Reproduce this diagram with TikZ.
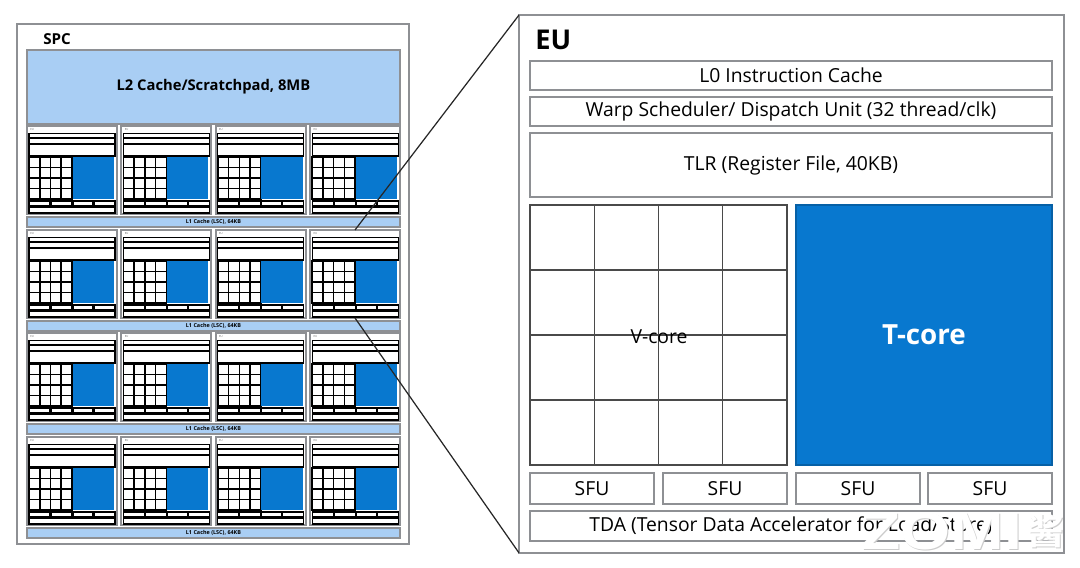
\documentclass[tikz,border=0pt]{standalone}
\usepackage{fontspec}
\setmainfont{Open Sans}
\newfontfamily\cjkwm{Noto Sans CJK SC}
\newfontfamily\wmfont{Liberation Sans}
\definecolor{lightb}{HTML}{A9CEF4}
\definecolor{coreb}{HTML}{0878CF}
\definecolor{edge}{HTML}{8E9094}
\definecolor{gridl}{HTML}{4A4A4A}
\tikzset{
  x=0.02cm,y=-0.02cm,
  box/.style={draw=edge,line width=0.9pt,fill=white,inner sep=0pt,outer sep=0pt,anchor=north west,align=center},
  cache/.style={draw=edge,line width=0.7pt,fill=lightb,inner sep=0pt,outer sep=0pt,anchor=north west,align=center},
  minirow/.style={draw=black,line width=0.6pt,fill=white},
  minigrid/.style={draw=black,line width=0.9pt},
  linkline/.style={draw=black!85,line width=0.7pt},
  biggrid/.style={draw=gridl,line width=0.7pt},
  bigtext/.style={font=\fontsize{11pt}{13pt}\selectfont},
}
\newcommand{\wbox}[6]{% name, x0, y0, x1, y1, text
  \pgfmathsetmacro{\wbw}{(#4-#2)*0.02}\pgfmathsetmacro{\wbh}{(#5-#3)*0.02}%
  \node[box,bigtext,minimum width=\wbw cm,minimum height=\wbh cm] (#1) at (#2,#3) {\raisebox{-0.05cm}{#6}};}
\begin{document}
\begin{tikzpicture}
\useasboundingbox (0,0) rectangle (1080,568);
\fill[white] (0,0) rectangle (1080,568);
% SPC
\node[box,minimum width=7.84cm,minimum height=10.4cm,line width=1pt] (spc) at (17,24) {};
\node[anchor=west,inner sep=0pt,font=\bfseries\fontsize{8.6pt}{10pt}\selectfont] (spclabel) at (43,39.5) {SPC};
\node[cache,minimum width=7.46cm,minimum height=1.48cm,font=\bfseries\fontsize{8.4pt}{10pt}\selectfont] (l2) at (27,50) {L2 Cache/Scratchpad, 8MB};
% L1 bars and tiles
\foreach \r/\ty/\by in {1/126/217,2/230/321,3/333/424,4/437/528}{
  \node[cache,minimum width=7.46cm,minimum height=0.2cm,font=\bfseries\fontsize{3.1pt}{4pt}\selectfont] (l1\r) at (27,\by) {L1 Cache (LSC), 64KB};
  \foreach \c/\tx in {1/27,2/121.4,3/215.8,4/310.2}{
    \begin{scope}[shift={(\tx,\ty)}]
      \node[box,minimum width=1.8cm,minimum height=1.76cm,line width=1.1pt] (t\r\c) at (0,0) {};
      \node[anchor=north west,inner sep=0pt,text=black!60,font=\fontsize{1.6pt}{2pt}\selectfont] (tl\r\c) at (3,2) {EU};
      \draw[minirow] (2,7.5) rectangle (88,12);
      \draw[minirow] (2,12.5) rectangle (88,18);
      \draw[minirow] (2,18.5) rectangle (88,30);
      \draw[minigrid] (2,31) rectangle (45,73);
      \foreach \q in {12.75,23.5,34.25} \draw[minigrid] (\q,31) -- (\q,73);
      \foreach \q in {41.5,52,62.5} \draw[minigrid] (2,\q) -- (45,\q);
      \fill[coreb] (45.5,31) rectangle (87,73);
      \draw[minirow] (2,75) rectangle (23,80);
      \draw[minirow] (24,75) rectangle (45,80);
      \draw[minirow] (46,75) rectangle (66,80);
      \draw[minirow] (67,75) rectangle (88,80);
      \draw[minirow] (2,81.5) rectangle (88,87);
    \end{scope}
  }
}
% EU
\node[box,minimum width=10.9cm,minimum height=10.76cm,line width=1pt] (eu) at (519,15) {};
\node[anchor=west,inner sep=0pt,font=\bfseries\fontsize{15.5pt}{18pt}\selectfont] (eulabel) at (535,40) {EU};
\wbox{l0}{530}{61}{1052}{90}{L0 Instruction Cache}
\wbox{warp}{530}{97}{1052}{126}{Warp Scheduler/ Dispatch Unit (32 thread/clk)}
\wbox{tlr}{530}{133}{1052}{197}{TLR (Register File, 40KB)}
\draw[biggrid] (530,205) rectangle (787,465);
\foreach \q in {594.25,658.5,722.75} \draw[biggrid] (\q,205) -- (\q,465);
\foreach \q in {270,335,400} \draw[biggrid] (530,\q) -- (787,\q);
\node[bigtext,inner sep=0pt] (vcore) at (659,337) {V-core};
\node[draw=coreb!80!black,line width=0.7pt,fill=coreb,anchor=north west,inner sep=0pt,outer sep=0pt,minimum width=5.12cm,minimum height=5.2cm,text=white,font=\bfseries\fontsize{15.8pt}{18pt}\selectfont] (tcore) at (796,205) {\raisebox{-0.05cm}{T-core}};
\wbox{sfua}{530}{473}{654}{504}{SFU}
\wbox{sfub}{663}{473}{787}{504}{SFU}
\wbox{sfuc}{796}{473}{920}{504}{SFU}
\wbox{sfud}{928}{473}{1052}{504}{SFU}
\wbox{tda}{530}{511}{1052}{541}{TDA (Tensor Data Accelerator for Load/Store)}
% connectors
\coordinate (ca) at (355,230);
\coordinate (cb) at (355,318);
\draw[linkline] (ca) -- (eu.north west);
\draw[linkline] (cb) -- (eu.south west);
% watermark
\node[anchor=center,inner sep=0pt,text=black!20,xscale=1.22,font=\wmfont\bfseries\fontsize{30pt}{32pt}\selectfont] (wmshadow) at (942.5,532) {ZOMI};
\node[anchor=center,inner sep=0pt,text=white,xscale=1.22,font=\wmfont\bfseries\fontsize{30pt}{32pt}\selectfont] (wm) at (941.5,531) {ZOMI};
\node[anchor=center,inner sep=0pt,text=black!20,font=\cjkwm\bfseries\fontsize{20pt}{22pt}\selectfont] (wmcshadow) at (1047,532) {酱};
\node[anchor=center,inner sep=0pt,text=white,font=\cjkwm\bfseries\fontsize{20pt}{22pt}\selectfont] (wmc) at (1046,531) {酱};
\end{tikzpicture}
\end{document}
